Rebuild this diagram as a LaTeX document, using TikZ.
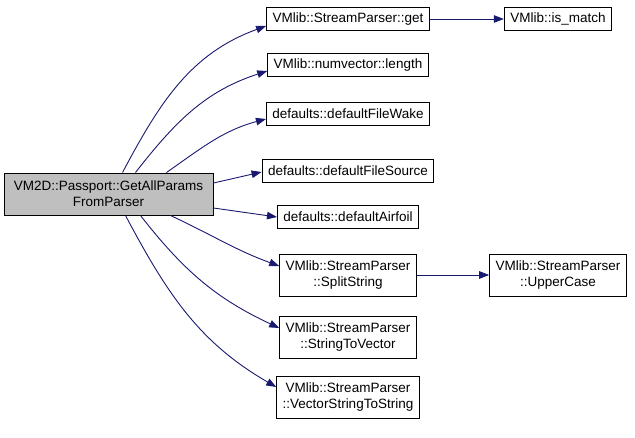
\documentclass[tikz,border=0pt]{standalone}
\usepackage{fontspec}
\setmainfont{Liberation Sans}
\usetikzlibrary{arrows.meta}
\definecolor{edgeblue}{HTML}{191970}
\definecolor{mainfill}{HTML}{BFBFBF}
\tikzset{
  box/.style={draw=black, fill=white, line width=1pt, inner xsep=6pt, inner ysep=2pt,
    minimum height=23pt, font=\fontsize{13.5}{16}\selectfont, align=center},
  dbox/.style={box, minimum height=42pt},
  mainbox/.style={dbox, fill=mainfill},
  edge/.style={draw=edgeblue, line width=0.9pt, -{Triangle[length=10pt,width=7.5pt]}}
}
\begin{document}
\begin{tikzpicture}[x=1pt,y=-1pt]
\useasboundingbox (0,0) rectangle (635,437);
\node[mainbox, minimum width=209pt] (main) at (108.5,194) {VM2D::Passport::GetAllParams\\FromParser};
\node[box] (get) at (348,19) {VMlib::StreamParser::get};
\node[box] (len) at (348,65) {VMlib::numvector::length};
\node[box] (wake) at (348,114) {defaults::defaultFileWake};
\node[box] (src) at (348,171) {defaults::defaultFileSource};
\node[box] (air) at (348,217) {defaults::defaultAirfoil};
\node[dbox] (split) at (348,275) {VMlib::StreamParser\\::SplitString};
\node[dbox] (s2v) at (348,337) {VMlib::StreamParser\\::StringToVector};
\node[dbox] (vs2s) at (348,397) {VMlib::StreamParser\\::VectorStringToString};
\node[box] (match) at (558,19) {VMlib::is\_match};
\node[dbox] (upper) at (558,275) {VMlib::StreamParser\\::UpperCase};

\draw[edge] ([xshift=14pt]main.north) to[out=62, in=200] ([yshift=-7pt]get.west);
\draw[edge] ([xshift=27pt]main.north) to[out=52, in=198] ([yshift=-6pt]len.west);
\draw[edge] ([xshift=58pt]main.north) to[out=35, in=195] ([yshift=-5pt]wake.west);
\draw[edge] ([yshift=11pt]main.east) -- ([yshift=-1pt]src.west);
\draw[edge] ([yshift=-14pt]main.east) -- (air.west);
\draw[edge] ([xshift=62pt]main.south) to[out=-25, in=160] ([yshift=9pt]split.west);
\draw[edge] ([xshift=32pt]main.south) to[out=-52, in=155] ([yshift=9pt]s2v.west);
\draw[edge] ([xshift=17pt]main.south) to[out=-62, in=150] ([yshift=10pt]vs2s.west);
\draw[edge] (get) -- (match);
\draw[edge] (split) -- (upper);
\end{tikzpicture}
\end{document}
